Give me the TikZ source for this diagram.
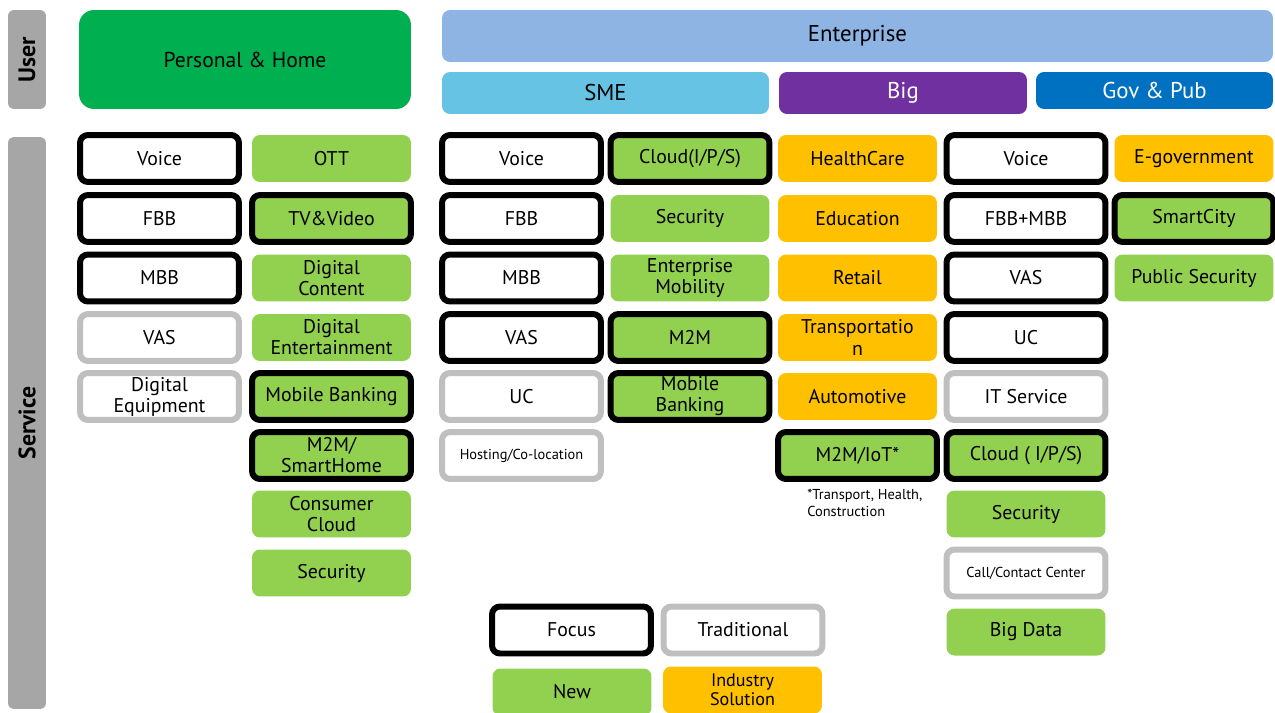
\documentclass[tikz,border=0pt]{standalone}
\usepackage{fontspec}
\setmainfont{PT Sans}
\setsansfont{PT Sans}
\definecolor{lgreen}{HTML}{92D050}
\definecolor{dgreen}{HTML}{00B050}
\definecolor{indorange}{HTML}{FFC000}
\definecolor{tradgray}{HTML}{BFBFBF}
\definecolor{labgray}{HTML}{A6A6A6}
\definecolor{entblue}{HTML}{8EB4E3}
\definecolor{smeblue}{HTML}{66C3E4}
\definecolor{bigpurple}{HTML}{7030A0}
\definecolor{govblue}{HTML}{0070C0}
\tikzset{
  cell/.style={rounded corners=0.16cm, minimum width=3.18cm, minimum height=0.94cm,
    inner sep=0pt, align=center, font=\fontsize{11.3}{12}\selectfont, text=black},
  focusbox/.style={cell, fill=white, draw=black, line width=0.12cm},
  tradbox/.style={cell, fill=white, draw=tradgray, line width=0.12cm},
  newbox/.style={cell, fill=lgreen},
  newfocus/.style={cell, fill=lgreen, draw=black, line width=0.12cm},
  indbox/.style={cell, fill=indorange},
  smalltext/.style={font=\fontsize{8.2}{9.5}\selectfont},
  header/.style={rounded corners=0.16cm, inner sep=0pt, align=center,
    font=\fontsize{13}{14}\selectfont},
  sidelab/.style={rounded corners=0.12cm, fill=labgray, inner sep=0pt,
    minimum height=0.76cm, font=\fontsize{13.5}{14}\selectfont\bfseries, rotate=90}
}
\begin{document}
\begin{tikzpicture}[x=0.02cm, y=-0.02cm]
\useasboundingbox (0,0) rectangle (1275,713);
% side labels
\node[sidelab, minimum width=1.98cm] (user) at (27,59.5) {User};
\node[sidelab, minimum width=11.44cm] (service) at (27,423) {Service};
% headers
\node[header, fill=dgreen, rounded corners=0.3cm, minimum width=6.64cm, minimum height=1.98cm,
  font=\fontsize{12.3}{13}\selectfont] (personal) at (245,59.5) {Personal \& Home};
\node[header, fill=entblue, minimum width=16.62cm, minimum height=1.04cm] (enterprise) at (857.5,36) {Enterprise};
\node[header, fill=smeblue, minimum width=6.54cm, minimum height=0.84cm] (sme) at (605.5,93) {SME};
\node[header, fill=bigpurple, text=white, minimum width=4.96cm, minimum height=0.84cm] (big) at (903,93) {Big};
\node[header, fill=govblue, text=white, minimum width=4.74cm, minimum height=0.74cm] (gov) at (1154.5,90.5) {Gov \& Pub};
% column 1
\node[focusbox] (p1) at (159.5,158.5) {Voice};
\node[focusbox] (p2) at (159.5,218.5) {FBB};
\node[focusbox] (p3) at (159.5,278) {MBB};
\node[tradbox] (p4) at (159.5,337.5) {VAS};
\node[tradbox] (p5) at (159.5,396.5) {Digital\\Equipment};
% column 2
\node[newbox] (q1) at (331.5,158.5) {OTT};
\node[newfocus] (q2) at (331.5,218.5) {TV\&Video};
\node[newbox] (q3) at (331.5,278) {Digital\\Content};
\node[newbox] (q4) at (331.5,337.5) {Digital\\Entertainment};
\node[newfocus] (q5) at (331.5,396.5) {Mobile Banking};
\node[newfocus] (q6) at (331.5,455.5) {M2M/\\SmartHome};
\node[newbox] (q7) at (331.5,514) {Consumer\\Cloud};
\node[newbox] (q8) at (331.5,573) {Security};
% column 3
\node[focusbox] (s1) at (521.5,158.5) {Voice};
\node[focusbox] (s2) at (521.5,218.5) {FBB};
\node[focusbox] (s3) at (521.5,278) {MBB};
\node[focusbox] (s4) at (521.5,337.5) {VAS};
\node[tradbox] (s5) at (521.5,396.5) {UC};
\node[tradbox, smalltext] (s6) at (521.5,455.5) {Hosting/Co-location};
% column 4
\node[newfocus] (t1) at (690,158.5) {Cloud(I/P/S)};
\node[newbox] (t2) at (690,218.5) {Security};
\node[newbox] (t3) at (690,278) {Enterprise\\Mobility};
\node[newfocus] (t4) at (690,337.5) {M2M};
\node[newfocus] (t5) at (690,396.5) {Mobile\\Banking};
% column 5
\node[indbox] (b1) at (857.5,158.5) {HealthCare};
\node[indbox] (b2) at (857.5,218.5) {Education};
\node[indbox] (b3) at (857.5,278) {Retail};
\node[indbox] (b4) at (857.5,337.5) {Transportatio\\n};
\node[indbox] (b5) at (857.5,396.5) {Automotive};
\node[newfocus] (b6) at (857.5,455.5) {M2M/IoT*};
\node[smalltext, align=left, anchor=north west, inner sep=0pt] (note) at (807,489) {*Transport, Health,\\Construction};
% column 6
\node[focusbox] (g1) at (1026,158.5) {Voice};
\node[focusbox] (g2) at (1026,218.5) {FBB+MBB};
\node[focusbox] (g3) at (1026,278) {VAS};
\node[focusbox] (g4) at (1026,337.5) {UC};
\node[tradbox] (g5) at (1026,396.5) {IT Service};
\node[newfocus] (g6) at (1026,455.5) {Cloud ( I/P/S)};
\node[newbox] (g7) at (1026,514) {Security};
\node[tradbox, smalltext] (g8) at (1026,573) {Call/Contact Center};
\node[newbox] (g9) at (1026,632) {Big Data};
% column 7
\node[indbox] (h1) at (1194,158.5) {E-government};
\node[newfocus] (h2) at (1194,218.5) {SmartCity};
\node[newbox] (h3) at (1194,278) {Public Security};
% legend
\node[focusbox] (lfocus) at (571.5,630) {Focus};
\node[tradbox] (ltrad) at (743,630) {Traditional};
\node[newbox] (lnew) at (572,692) {New};
\node[indbox, font=\fontsize{10.3}{11}\selectfont] (lind) at (742.5,690) {Industry\\Solution};
\end{tikzpicture}
\end{document}
